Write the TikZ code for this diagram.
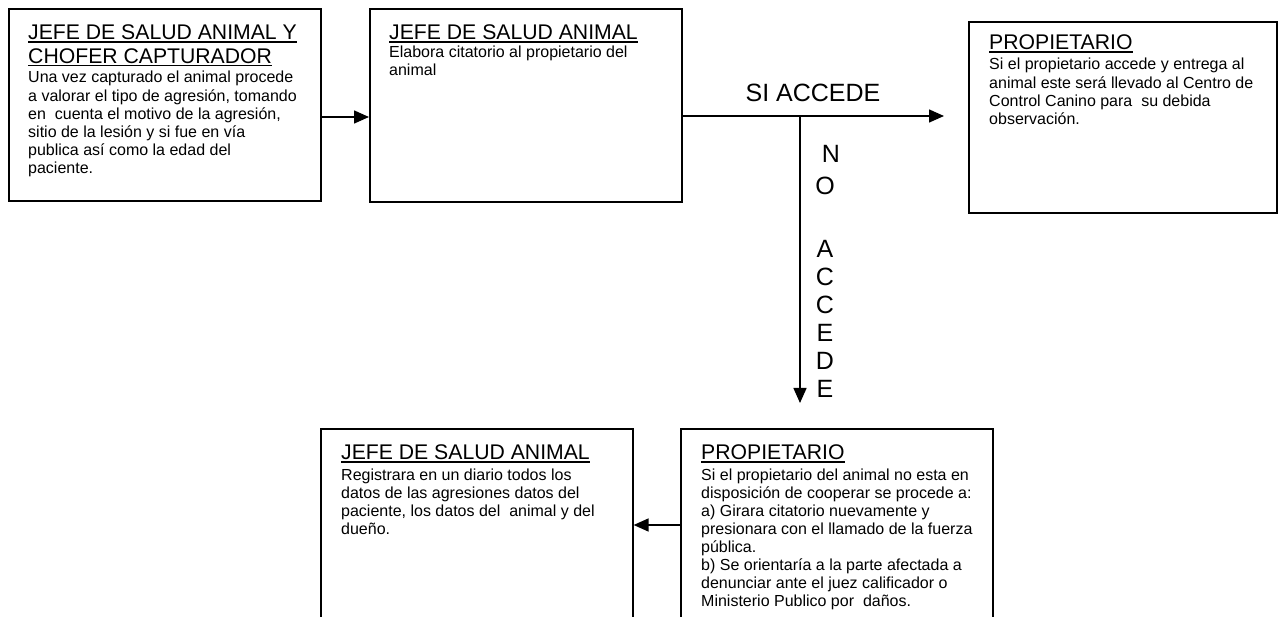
\documentclass[tikz,border=0pt]{standalone}
\usepackage{fontspec}
\setmainfont{Liberation Sans}
\usetikzlibrary{arrows.meta,calc}
\newcommand\tul[1]{\setbox0\hbox{#1}\rlap{\rule[-2.6pt]{\wd0}{1.3pt}}\box0}
\begin{document}
\begin{tikzpicture}[x=1pt,y=-1pt,
  box/.style={draw, line width=1.6pt, inner sep=0pt, anchor=north west},
  ttl/.style={anchor=base west, inner sep=0pt, align=left, font=\fontsize{21.2}{23.3}\selectfont},
  body/.style={anchor=base west, inner sep=0pt, align=left, font=\fontsize{16}{18.1}\selectfont},
  big/.style={inner sep=0pt, font=\fontsize{25}{28}\selectfont},
  conn/.style={line width=1.5pt, -{Triangle[length=15pt,width=13pt]}}]
\useasboundingbox (0,0) rectangle (1278,617);
\clip (0,0) rectangle (1278,617);
% boxes
\node[box, minimum width=312pt, minimum height=192pt] (b1) at (8,8) {};
\node[box, minimum width=312pt, minimum height=193pt] (b2) at (369,8) {};
\node[box, minimum width=308pt, minimum height=191pt] (b3) at (968,21) {};
\node[box, minimum width=312pt, minimum height=250pt] (b4) at (320,428) {};
\node[box, minimum width=312pt, minimum height=250pt] (b5) at (680,428) {};
% texts (base anchor = baseline of the last line)
\node[ttl] (t1) at ($(b1.north west)+(20,55.3)$) {\tul{JEFE DE SALUD ANIMAL Y}\\\tul{CHOFER CAPTURADOR}};
\node[body] (x1) at ($(b1.north west)+(20,165.5)$) {Una vez capturado el animal procede\\a valorar el tipo de agresión, tomando\\en\ \ cuenta el motivo de la agresión,\\sitio de la lesión y si fue en vía\\publica así como la edad del\\paciente.};
\node[ttl] (t2) at ($(b2.north west)+(20,32)$) {\tul{JEFE DE SALUD ANIMAL}};
\node[body] (x2) at ($(b2.north west)+(20,68)$) {Elabora citatorio al propietario del\\animal};
\node[ttl] (t3) at ($(b3.north west)+(21,29)$) {\tul{PROPIETARIO}};
\node[body] (x3) at ($(b3.north west)+(21,103.3)$) {Si el propietario accede y entrega al\\animal este será llevado al Centro de\\Control Canino para\ \ su debida\\observación.};
\node[ttl] (t4) at ($(b4.north west)+(21,32)$) {\tul{JEFE DE SALUD ANIMAL}};
\node[body] (x4) at ($(b4.north west)+(21,106.3)$) {Registrara en un diario todos los\\datos de las agresiones datos del\\paciente, los datos del\ \ animal y del\\dueño.};
\node[ttl] (t5) at ($(b5.north west)+(21,32)$) {\tul{PROPIETARIO}};
\node[body] (x5) at ($(b5.north west)+(21,178.7)$) {Si el propietario del animal no esta en\\disposición de cooperar se procede a:\\a) Girara citatorio nuevamente y\\presionara con el llamado de la fuerza\\pública.\\b) Se orientaría a la parte afectada a\\denunciar ante el juez calificador o\\Ministerio Publico por\ \ daños.};
% coordinates
\coordinate (ya) at (0,117);
\coordinate (yb) at (0,116);
\coordinate (yc) at (0,525);
\coordinate (siend) at (944,116);
\coordinate (jn) at (800,116);
\coordinate (noend) at (800,403);
% connectors
\draw[conn] (b1.east |- ya) -- (b2.west |- ya);
\draw[conn] (b2.east |- yb) -- (siend);
\draw[conn] (jn) -- (noend);
\draw[conn] (b5.west |- yc) -- (b4.east |- yc);
% labels
\node[big, anchor=base] (si) at (813,102) {SI ACCEDE};
\node[big, anchor=base, align=center] (no) at (825,398) {\hspace*{12pt}N\\[4pt]O\\[35pt]A\\C\\C\\E\\D\\E};
\end{tikzpicture}
\end{document}
